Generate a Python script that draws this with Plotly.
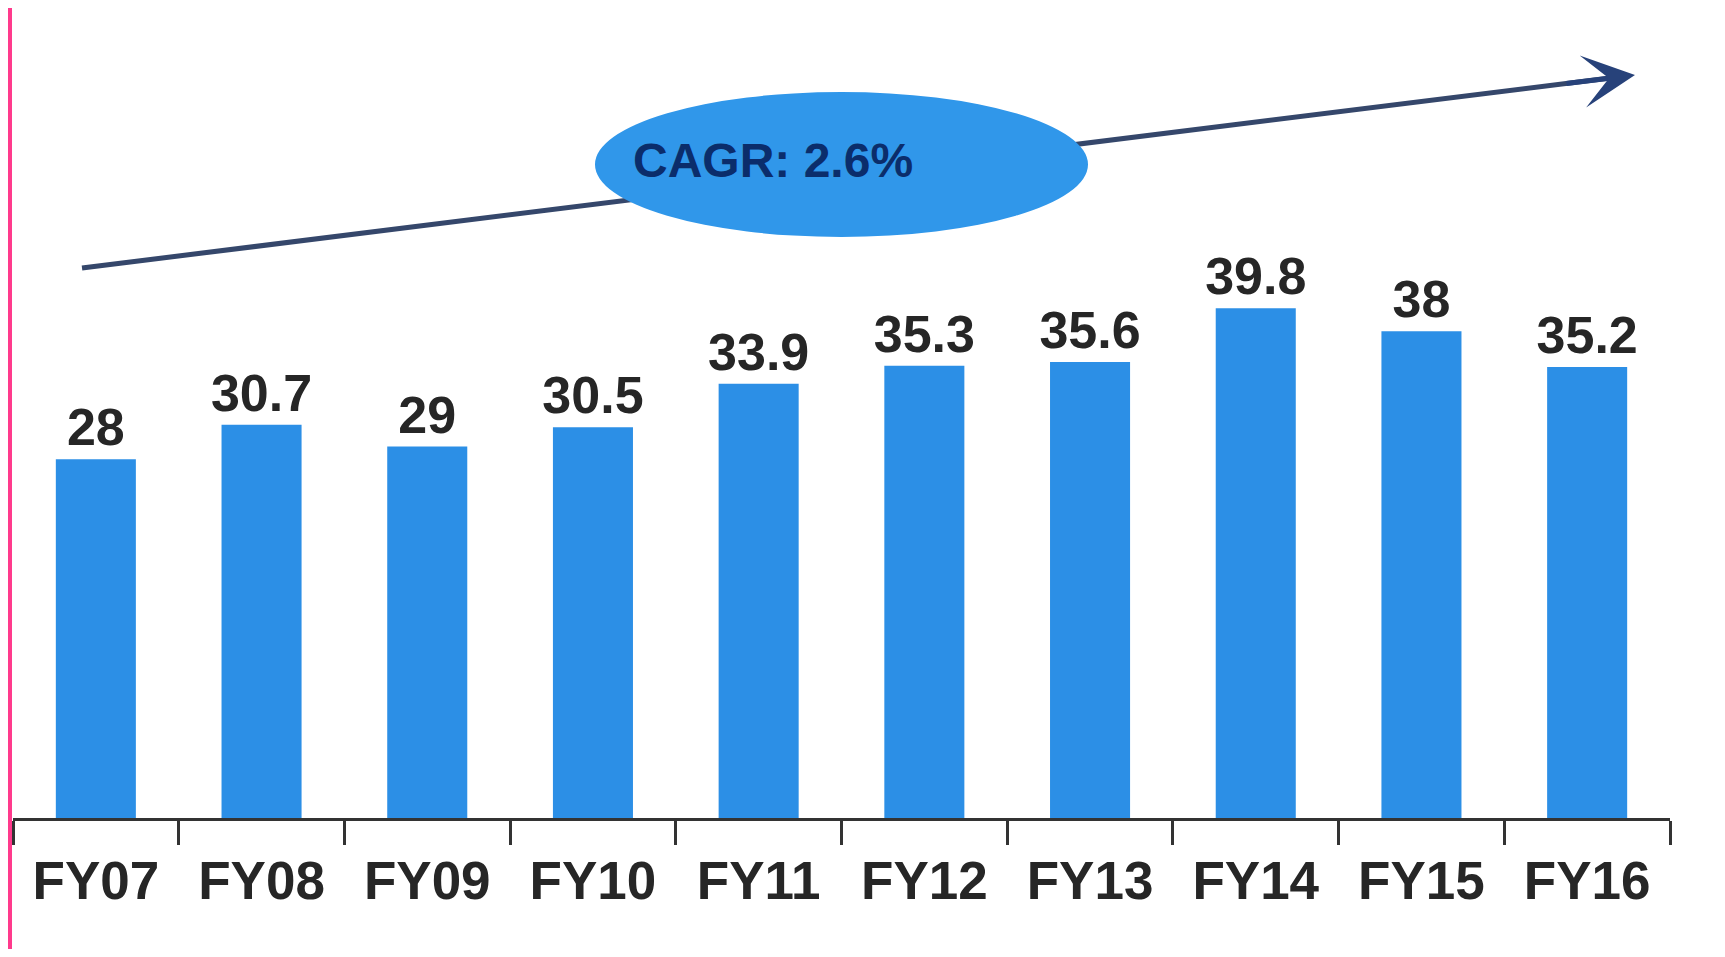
import plotly.graph_objects as go

# ── Data ──────────────────────────────────────────────────────────────────────
YEARS = ["FY07", "FY08", "FY09", "FY10", "FY11", "FY12", "FY13", "FY14", "FY15", "FY16"]
VALUES = [28, 30.7, 29, 30.5, 33.9, 35.3, 35.6, 39.8, 38, 35.2]
VALUE_LABELS = ["28", "30.7", "29", "30.5", "33.9", "35.3", "35.6", "39.8", "38", "35.2"]
CAGR_TEXT = "CAGR: 2.6%"

# ── Palette ───────────────────────────────────────────────────────────────────
BAR_BLUE = "#2C8FE6"
ELLIPSE_BLUE = "#3097EA"
BORDER_PINK = "#FF3A8C"
ARROW_NAVY = "#35476B"
TEXT_DARK = "#262626"
CAGR_NAVY = "#0B2D6B"

# page puts the figure 8px in from the top-left corner
OFF = 8
W, H = 1725 - 2 * OFF, 957 - 2 * OFF
# plot area, in reference-image pixels
PX0, PX1 = 13, 1670
PY_TOP, PY_BASE = 20, 818
PX_PER_UNIT = 12.81
Y_MAX = (PY_BASE - PY_TOP) / PX_PER_UNIT


def px(x):
    return (x - PX0) / (PX1 - PX0)


def py(y):
    return (PY_BASE - y) / (PY_BASE - PY_TOP)


fig = go.Figure(go.Bar(
    x=YEARS,
    y=VALUES,
    text=VALUE_LABELS,
    textposition="outside",
    constraintext="none",
    cliponaxis=False,
    textfont=dict(family="Liberation Sans, Arial", size=52, color=TEXT_DARK,
                  weight="bold"),
    marker=dict(color=BAR_BLUE, line=dict(width=0)),
    hoverinfo="skip",
))

tip = (1635, 75)
tail = (82, 268)
shapes = [
    # white card inside the pink frame
    dict(type="rect", xref="paper", yref="paper", layer="below",
         x0=px(12), x1=px(1723), y0=py(980), y1=py(6),
         fillcolor="white", line=dict(width=0)),
    # trend line, passes behind the ellipse
    dict(type="line", xref="paper", yref="paper", layer="above",
         x0=px(tail[0]), y0=py(tail[1]), x1=px(tip[0] - 25), y1=py(tip[1] + 3),
         line=dict(color=ARROW_NAVY, width=5)),
    dict(type="circle", xref="paper", yref="paper", layer="above",
         x0=px(595), x1=px(1088), y0=py(237), y1=py(92),
         fillcolor=ELLIPSE_BLUE, line=dict(width=0)),
]

annotations = [
    dict(x=px(tip[0]), y=py(tip[1]), xref="paper", yref="paper",
         ax=-70, ay=8.7, axref="pixel", ayref="pixel",
         showarrow=True, arrowhead=3, arrowsize=1.75, arrowwidth=5,
         arrowcolor="#27427A", text=""),
    dict(x=px(773), y=py(160), xref="paper", yref="paper", showarrow=False,
         xanchor="center", yanchor="middle",
         text=CAGR_TEXT,
         font=dict(family="Liberation Sans, Arial", size=48,
                   color=CAGR_NAVY, weight="bold")),
]

fig.update_layout(
    width=W, height=H,
    paper_bgcolor=BORDER_PINK,
    plot_bgcolor="rgba(0,0,0,0)",
    margin=dict(l=PX0 - OFF, r=W + OFF - PX1, t=PY_TOP - OFF, b=H + OFF - PY_BASE),
    bargap=0.517,
    showlegend=False,
    shapes=shapes,
    annotations=annotations,
    xaxis=dict(
        type="category",
        showline=True, linecolor="#333333", linewidth=3,
        ticks="outside", tickson="boundaries", ticklen=24, tickwidth=3,
        tickcolor="#333333", ticklabelstandoff=14,
        showgrid=False, zeroline=False, automargin=False,
        tickfont=dict(family="Liberation Sans, Arial", size=53, color=TEXT_DARK,
                      weight="bold"),
    ),
    yaxis=dict(range=[0, Y_MAX], visible=False, showgrid=False, zeroline=False),
)

fig.write_html("out.html")
